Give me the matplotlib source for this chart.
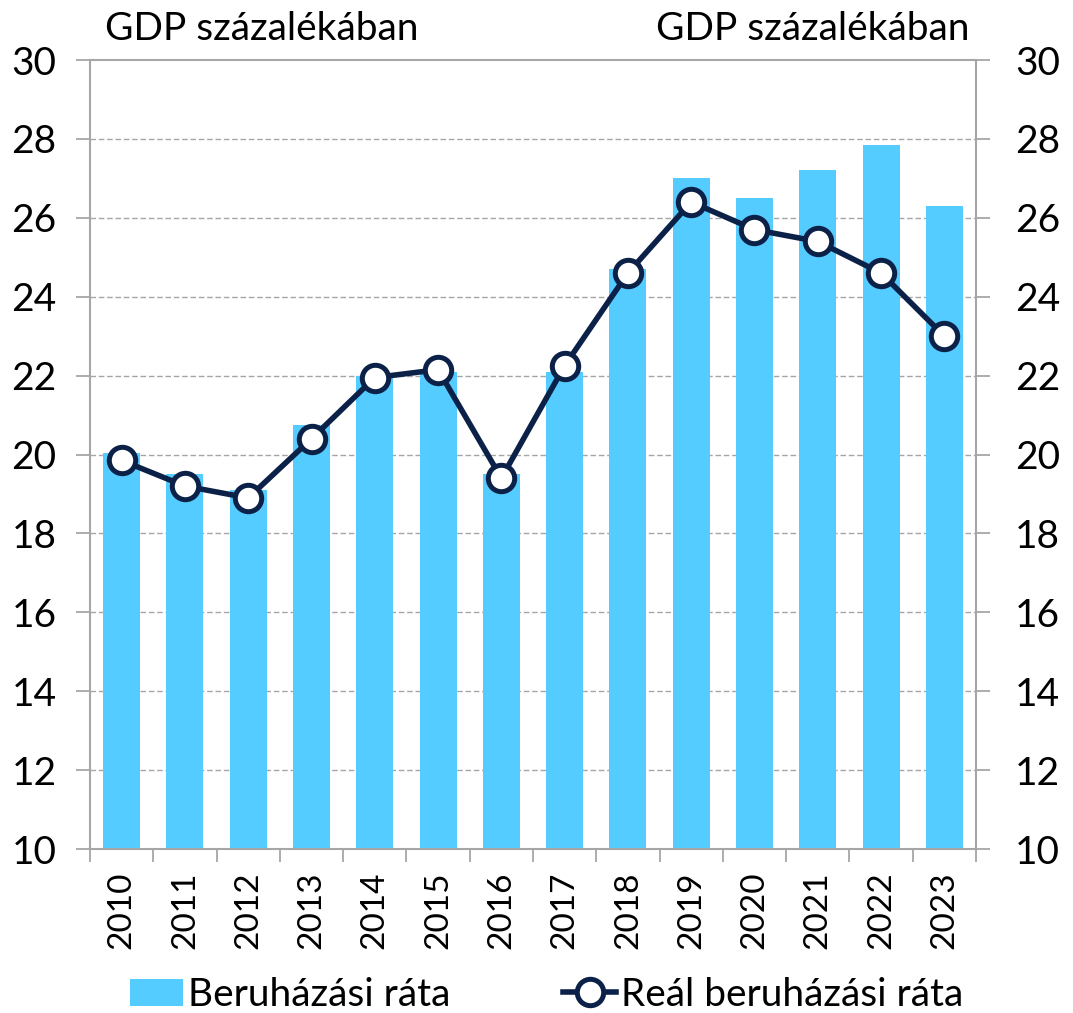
import matplotlib
matplotlib.use("Agg")
import matplotlib.pyplot as plt
import numpy as np

plt.rcParams['font.family'] = ['Lato', 'DejaVu Sans']

years = ['2010', '2011', '2012', '2013', '2014', '2015', '2016', '2017',
         '2018', '2019', '2020', '2021', '2022', '2023']
beruhazasi_rata = [20.05, 19.5, 19.1, 20.75, 22.0, 22.1, 19.5, 22.1,
                   24.7, 27.0, 26.5, 27.2, 27.85, 26.3]
real_beruhazasi_rata = [19.85, 19.2, 18.9, 20.4, 21.95, 22.15, 19.4, 22.25,
                        24.6, 26.4, 25.7, 25.4, 24.6, 23.0]
yticks = [10, 12, 14, 16, 18, 20, 22, 24, 26, 28, 30]

BAR = '#55CCFF'
NAVY = '#0C2148'
GRID = '#A6A6A6'
FS = 28
FSX = 24

fig = plt.figure(figsize=(10.73, 10.13), dpi=100)
ax = fig.add_axes([90/1073, 1-849/1013, (976-90)/1073, (849-60)/1013])
x = np.arange(len(years))
bars = ax.bar(x, [v - 10 for v in beruhazasi_rata], bottom=10, width=0.585, color=BAR,
              zorder=2, label='Beruházási ráta')
line, = ax.plot(x, real_beruhazasi_rata, color=NAVY, lw=4.0, marker='o', ms=19,
                mfc='white', mec=NAVY, mew=3.6, zorder=3, label='Reál beruházási ráta')

ax.set_xlim(-0.5, len(years) - 0.5)
ax.set_ylim(10, 30)
ax.set_yticks(yticks)
ax.set_yticklabels([str(t) for t in yticks], fontsize=FS)
for t in yticks[1:-1]:
    ax.axhline(t, color=GRID, lw=1.0, ls=(0, (4, 2)), zorder=1)
ax.axhline(30, color=GRID, lw=1.5, zorder=1, clip_on=False)

ax.set_xticks(x)
ax.set_xticklabels(years, rotation=90, fontsize=FSX)
ax.set_xticks(np.arange(-0.5, len(years), 1), minor=True)
ax.tick_params(axis='x', which='major', length=0, pad=16)
ax.tick_params(axis='x', which='minor', length=9, width=1.3, color=GRID)
ax.tick_params(axis='y', length=10, width=1.3, color=GRID, pad=14)

for s in ['top', 'right']:
    ax.spines[s].set_visible(False)
for s in ['left', 'bottom']:
    ax.spines[s].set_color(GRID)
    ax.spines[s].set_linewidth(1.5)

ax2 = ax.twinx()
ax2.set_ylim(10, 30)
ax2.set_yticks(yticks)
ax2.set_yticklabels([str(t) for t in yticks], fontsize=FS)
ax2.tick_params(axis='y', length=10, width=1.3, color=GRID, pad=18)
for s in ['top', 'left', 'bottom']:
    ax2.spines[s].set_visible(False)
ax2.spines['right'].set_color(GRID)
ax2.spines['right'].set_linewidth(1.5)

fig.text(105/1073, 1-40/1013, 'GDP százalékában', fontsize=FS, ha='left', va='baseline')
fig.text(970/1073, 1-40/1013, 'GDP százalékában', fontsize=FS, ha='right', va='baseline')

fig.legend([bars, line], ['Beruházási ráta', 'Reál beruházási ráta'], loc='center',
           bbox_to_anchor=(547/1073, 1-995/1013), ncol=2,
           frameon=False, fontsize=FS, handlelength=1.36, handletextpad=0.13,
           columnspacing=2.9, borderaxespad=0)

fig.savefig('out.png', dpi=100)
